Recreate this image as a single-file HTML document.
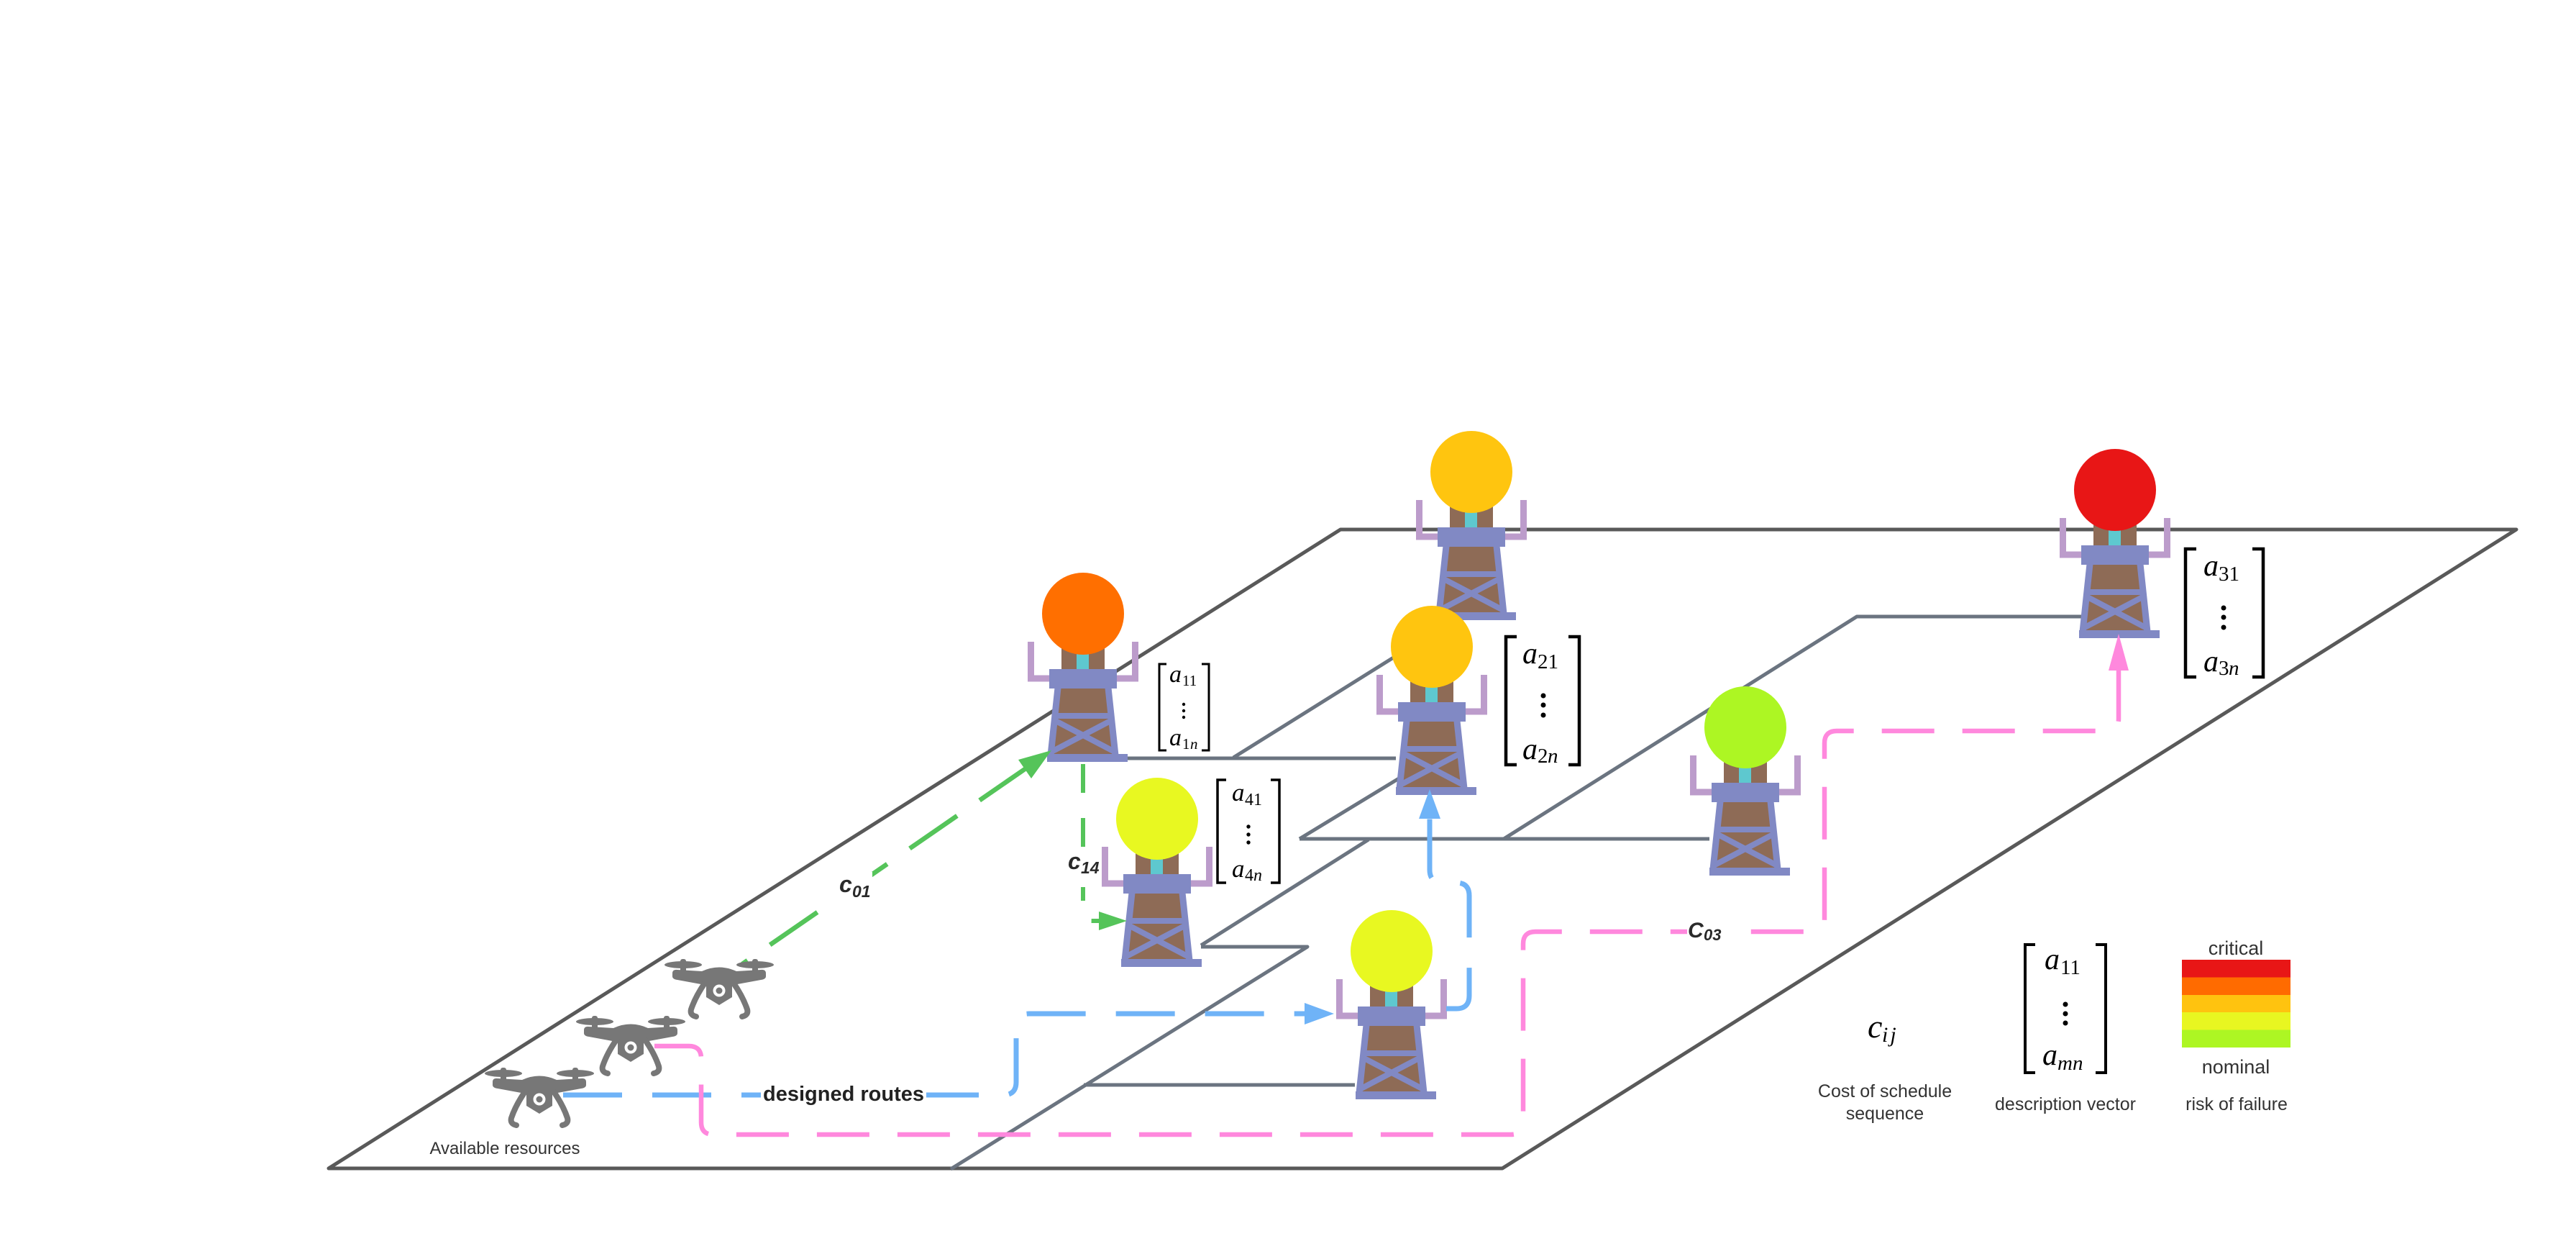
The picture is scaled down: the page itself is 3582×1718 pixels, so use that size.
<!DOCTYPE html>
<html>
<head>
<meta charset="utf-8">
<style>
html,body{margin:0;padding:0;background:#fff;}
body{width:3582px;height:1718px;overflow:hidden;}
svg{display:block;}
.mi{font-family:"Liberation Serif",serif;font-style:italic;fill:#000;}
.mr{font-family:"Liberation Serif",serif;font-style:normal;fill:#000;}
.lab{font-family:"Liberation Sans",sans-serif;font-weight:bold;font-style:italic;fill:#2a2a2a;}
.txt{font-family:"Liberation Sans",sans-serif;fill:#333;}
</style>
</head>
<body>
<svg width="3582" height="1718" viewBox="0 0 3582 1718" xmlns="http://www.w3.org/2000/svg">
<rect width="3582" height="1718" fill="#fff"/>
<defs>
  <g id="tw">
    <path d="M-72.5,39 V90 H-47 M72.5,39 V90 H47" fill="none" stroke="#BC9CCB" stroke-width="9"/>
    <rect x="-30" y="20" width="60" height="60" fill="#8E6B56"/>
    <rect x="-9" y="50" width="17" height="30" fill="#5EC8CF"/>
    <polygon points="-39,103 39,103 49,197 -49,197" fill="#8E6B56"/>
    <path d="M-35,103 L-45,197 M35,103 L45,197" stroke="#8189C4" stroke-width="9" fill="none"/>
    <rect x="-41" y="138" width="82" height="8" fill="#8189C4"/>
    <path d="M-40,148 L44,192 M40,148 L-44,192" stroke="#8189C4" stroke-width="8" fill="none"/>
    <rect x="-47" y="77" width="94" height="27" fill="#8189C4"/>
    <rect x="-50" y="195" width="112" height="11" fill="#8189C4"/>
  </g>
  <g id="dr" fill="#777777">
    <ellipse cx="-50" cy="-36" rx="26" ry="5"/>
    <ellipse cx="50" cy="-36" rx="26" ry="5"/>
    <rect x="-54" y="-44" width="8" height="22" rx="3"/>
    <rect x="46" y="-44" width="8" height="22" rx="3"/>
    <path d="M-65,-24 Q-65,-30 -58,-29 L-24,-27 Q0,-38 24,-27 L58,-29 Q65,-30 65,-24 L65,-20 Q65,-16 58,-15 L20,-8 L-20,-8 L-58,-15 Q-65,-16 -65,-20 Z"/>
    <path d="M-18,-18 H18 V9 L0,20 L-18,9 Z"/>
    <path d="M-19,-12 Q-33,8 -39,26 Q-41,34 -32,36 M19,-12 Q33,8 39,26 Q41,34 32,36" fill="none" stroke="#777777" stroke-width="8" stroke-linecap="round"/>
    <circle r="8.5" fill="#fff"/>
    <circle r="4.5"/>
  </g>
</defs>

<!-- outer plane -->
<path d="M457,1624 H2089 L3499,736 H1864 Z" fill="none" stroke="#595959" stroke-width="5" stroke-linejoin="round"/>

<!-- inner lines -->
<g stroke="#6B7480" stroke-width="5" fill="none" stroke-linejoin="round">
  <path d="M1568,1054 H1941"/>
  <path d="M1715,1053 L1960,900"/>
  <path d="M1670,1314 L1903,1167"/>
  <path d="M1807,1166 H2377"/>
  <path d="M1807,1166 L1960,1073"/>
  <path d="M2091,1166 L2582,857 H2894"/>
  <path d="M1670,1316 H1818 L1322,1625"/>
  <path d="M1507,1508 H1884"/>
</g>

<!-- towers -->
<use href="#tw" x="2046" y="656"/><circle cx="2046" cy="656" r="57" fill="#FFC50F"/>
<use href="#tw" x="2941" y="681"/><circle cx="2941" cy="681" r="57" fill="#E81616"/>
<use href="#tw" x="1506" y="853"/><circle cx="1506" cy="853" r="57" fill="#FF6F00"/>
<use href="#tw" x="1991" y="899"/><circle cx="1991" cy="899" r="57" fill="#FFC50F"/>
<use href="#tw" x="2427" y="1011"/><circle cx="2427" cy="1011" r="57" fill="#ADF623"/>
<use href="#tw" x="1609" y="1138"/><circle cx="1609" cy="1138" r="57" fill="#E8F821"/>
<use href="#tw" x="1935" y="1322"/><circle cx="1935" cy="1322" r="57" fill="#E8F821"/>

<!-- green paths -->
<path d="M1428,1067 L1032,1340" stroke="#55C45A" stroke-width="6.5" stroke-dasharray="80 38" fill="none"/>
<polygon points="1462,1043 1416,1056 1434,1082" fill="#55C45A"/>
<path d="M1506,1062 V1268 Q1506,1280 1518,1280 H1530" stroke="#55C45A" stroke-width="6" stroke-dasharray="40 35" fill="none"/>
<polygon points="1567,1280 1528,1267 1528,1293" fill="#55C45A"/>

<!-- blue paths -->
<path d="M783,1522 H1395 Q1413,1522 1413,1504 V1427 Q1413,1409 1431,1409 H1817" stroke="#6FB3F7" stroke-width="7" stroke-dasharray="82 42" fill="none"/>
<polygon points="1855,1409 1814,1394 1814,1424" fill="#6FB3F7"/>
<path d="M2011,1402 H2025 Q2043,1402 2043,1384 V1245 Q2043,1227 2025,1227 H2006 Q1988,1227 1988,1209 V1137" stroke="#6FB3F7" stroke-width="7" stroke-dasharray="82 42" fill="none"/>
<polygon points="1988,1097 1973,1138 2003,1138" fill="#6FB3F7"/>

<!-- pink path -->
<path d="M910,1454 H958 Q975,1454 975,1471 V1560 Q975,1577 992,1577 H2101 Q2118,1577 2118,1560 V1312 Q2118,1295 2135,1295 H2520 Q2537,1295 2537,1278 V1033 Q2537,1016 2554,1016 H2929 Q2946,1016 2946,999 V930" stroke="#FF88DD" stroke-width="6.5" stroke-dasharray="73 39" fill="none"/>
<polygon points="2946,881 2932,932 2960,932" fill="#FF88DD"/>

<!-- path labels -->
<rect x="1162" y="1212" width="51" height="40" fill="#fff"/>
<text class="lab" x="1167" y="1240" font-size="32">c</text>
<text class="lab" x="1185" y="1247" font-size="23">01</text>

<rect x="1482" y="1184" width="48" height="49" fill="#fff"/>
<text class="lab" x="1485" y="1208" font-size="32">c</text>
<text class="lab" x="1503" y="1214" font-size="23">14</text>

<rect x="2346" y="1276" width="50" height="36" fill="#fff"/>
<text class="lab" x="2347" y="1303" font-size="30">C</text>
<text class="lab" x="2369" y="1307" font-size="22">03</text>

<rect x="1058" y="1506" width="230" height="32" fill="#fff"/>
<text x="1173" y="1530" text-anchor="middle" font-family="Liberation Sans, sans-serif" font-weight="bold" font-size="29" fill="#222">designed routes</text>

<!-- drones -->
<use href="#dr" x="750" y="1528"/>
<use href="#dr" x="877" y="1456"/>
<use href="#dr" x="1000" y="1377"/>
<text class="txt" x="702" y="1604" text-anchor="middle" font-size="24">Available resources</text>

<!-- matrix a1 -->
<path d="M1622,923 H1612 V1043 H1622 M1671,923 H1681 V1043 H1671" stroke="#000" stroke-width="3" fill="none"/>
<text class="mi" x="1626" y="948" font-size="34">a</text>
<text class="mr" x="1644" y="953" font-size="21">11</text>
<circle cx="1646" cy="979" r="2.2"/><circle cx="1646" cy="988" r="2.2"/><circle cx="1646" cy="997" r="2.2"/>
<text class="mi" x="1626" y="1036" font-size="34">a</text>
<text class="mr" x="1644" y="1041" font-size="21">1</text>
<text class="mi" x="1655" y="1041" font-size="21">n</text>

<!-- matrix a4 -->
<path d="M1705,1084 H1693 V1227 H1705 M1767,1084 H1779 V1227 H1767" stroke="#000" stroke-width="3.5" fill="none"/>
<text class="mi" x="1713" y="1113" font-size="35">a</text>
<text class="mr" x="1731" y="1119" font-size="24">41</text>
<circle cx="1736" cy="1149" r="2.7"/><circle cx="1736" cy="1160" r="2.7"/><circle cx="1736" cy="1171" r="2.7"/>
<text class="mi" x="1713" y="1219" font-size="35">a</text>
<text class="mr" x="1731" y="1224" font-size="24">4</text>
<text class="mi" x="1743" y="1224" font-size="24">n</text>

<!-- matrix a2 -->
<path d="M2109,885 H2094 V1063 H2109 M2181,885 H2196 V1063 H2181" stroke="#000" stroke-width="4.5" fill="none"/>
<text class="mi" x="2117" y="922" font-size="42">a</text>
<text class="mr" x="2138" y="929" font-size="29">21</text>
<circle cx="2146" cy="967" r="3.5"/><circle cx="2146" cy="980" r="3.5"/><circle cx="2146" cy="994" r="3.5"/>
<text class="mi" x="2117" y="1055" font-size="42">a</text>
<text class="mr" x="2138" y="1060" font-size="29">2</text>
<text class="mi" x="2152" y="1060" font-size="29">n</text>

<!-- matrix a3 -->
<path d="M3054,763 H3039 V941 H3054 M3132,763 H3147 V941 H3132" stroke="#000" stroke-width="4.5" fill="none"/>
<text class="mi" x="3064" y="800" font-size="42">a</text>
<text class="mr" x="3085" y="807" font-size="29">31</text>
<circle cx="3092" cy="845" r="3.5"/><circle cx="3092" cy="858" r="3.5"/><circle cx="3092" cy="872" r="3.5"/>
<text class="mi" x="3064" y="933" font-size="42">a</text>
<text class="mr" x="3085" y="938" font-size="29">3</text>
<text class="mi" x="3099" y="938" font-size="29">n</text>

<!-- legend -->
<text class="mi" x="2597" y="1442" font-size="46">c</text>
<text class="mi" x="2617" y="1448" font-size="30" letter-spacing="3">ij</text>
<text class="txt" x="2621" y="1525" text-anchor="middle" font-size="25">Cost of schedule</text>
<text class="txt" x="2621" y="1556" text-anchor="middle" font-size="25">sequence</text>

<path d="M2830,1313 H2816 V1491 H2830 M2914,1313 H2928 V1491 H2914" stroke="#000" stroke-width="4" fill="none"/>
<text class="mi" x="2843" y="1347" font-size="42">a</text>
<text class="mr" x="2865" y="1354" font-size="29">11</text>
<circle cx="2872" cy="1396" r="3.5"/><circle cx="2872" cy="1409" r="3.5"/><circle cx="2872" cy="1422" r="3.5"/>
<text class="mi" x="2840" y="1480" font-size="42">a</text>
<text class="mi" x="2861" y="1487" font-size="29">mn</text>
<text class="txt" x="2872" y="1543" text-anchor="middle" font-size="25">description vector</text>

<text class="txt" x="3109" y="1327" text-anchor="middle" font-size="27">critical</text>
<rect x="3034" y="1334" width="151" height="25" fill="#E81616"/>
<rect x="3034" y="1358.5" width="151" height="25" fill="#FF6B00"/>
<rect x="3034" y="1383" width="151" height="25" fill="#FFC30F"/>
<rect x="3034" y="1407" width="151" height="25" fill="#E8F621"/>
<rect x="3034" y="1431.5" width="151" height="24.5" fill="#ADF623"/>
<text class="txt" x="3109" y="1492" text-anchor="middle" font-size="27">nominal</text>
<text class="txt" x="3110" y="1543" text-anchor="middle" font-size="25">risk of failure</text>
</svg>
</body>
</html>
